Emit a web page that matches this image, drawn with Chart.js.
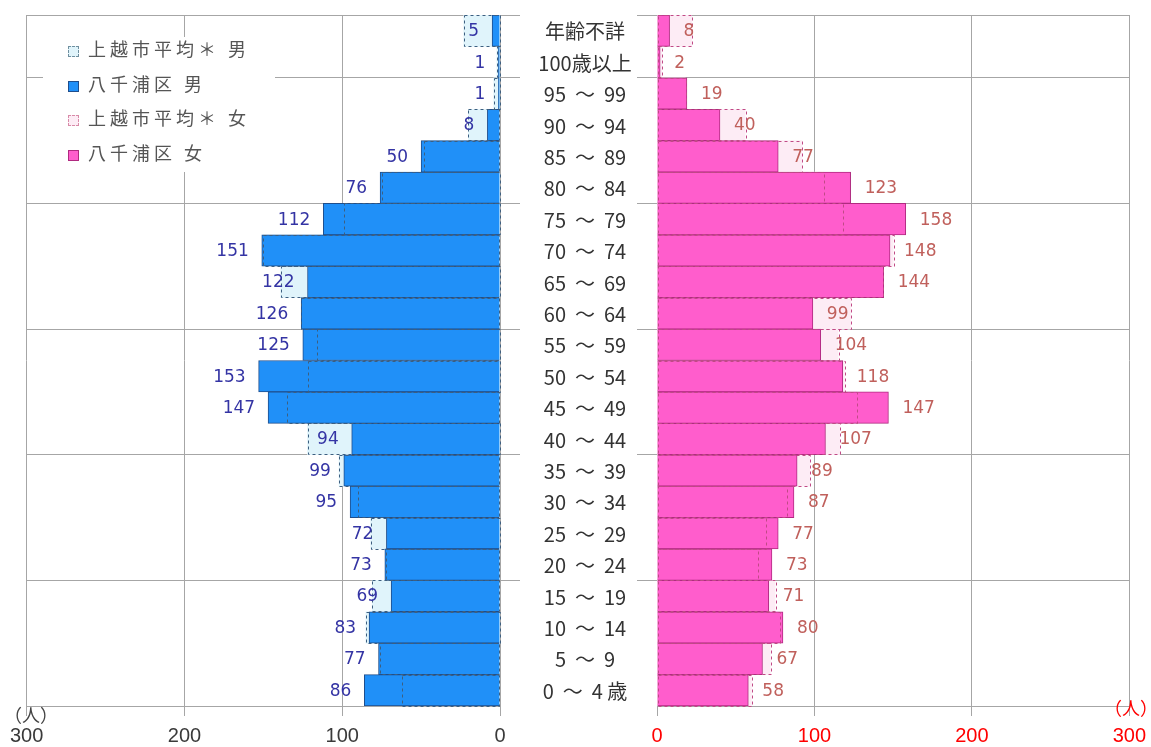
<!DOCTYPE html>
<html lang="ja">
<head>
<meta charset="utf-8">
<title>八千浦区 人口ピラミッド</title>
<script src="https://cdn.jsdelivr.net/npm/chart.js@4.4.1/dist/chart.umd.min.js"></script>
<style>
  html, body { margin: 0; padding: 0; background: #fff; }
  #wrap { position: relative; width: 1151px; height: 747px; overflow: hidden; background: #fff; }
  #leftChart { position: absolute; left: 0; top: 0; }
  #rightChart { position: absolute; left: 637px; top: 0; }
  #legend {
    position: absolute; left: 43px; top: 37px; width: 232px; height: 135px;
    background: #fff; font-family: "Noto Sans CJK JP", sans-serif; font-size: 18px;
    color: #555; letter-spacing: 4px;
  }
  #legend .item { position: absolute; left: 25px; height: 24px; line-height: 24px; white-space: nowrap; }
  #legend .sw { display: inline-block; width: 11px; height: 11px; margin-right: 9px; vertical-align: -1px; box-sizing: border-box; }
  .sw.avgM { background: #e0f4fb; border: 1px dashed #6f8f9f; }
  .sw.locM { background: #2090f8; border: 1px solid #1f4e8c; }
  .sw.avgF { background: #fdecf5; border: 1px dashed #d88aa8; }
  .sw.locF { background: #ff5dcc; border: 1px solid #b02a80; }
  .unit { position: absolute; font-family: "Noto Sans CJK JP", sans-serif; font-size: 18px; line-height: 20px; }
</style>
</head>
<body>
<div id="wrap">
  <canvas id="leftChart" width="657" height="747"></canvas>
  <canvas id="rightChart" width="519" height="747"></canvas>
  <div id="legend">
    <div class="item" style="top:-1px"><span class="sw avgM"></span>上越市平均＊ 男</div>
    <div class="item" style="top:34px"><span class="sw locM"></span>八千浦区 男</div>
    <div class="item" style="top:68px"><span class="sw avgF"></span>上越市平均＊ 女</div>
    <div class="item" style="top:103px"><span class="sw locF"></span>八千浦区 女</div>
  </div>
  <div class="unit" style="left:4px; top:704px; color:#444;">（人）</div>
  <div class="unit" style="left:1104px; top:697px; color:#ff0000;">（人）</div>
</div>
<script>
// 年齢区分（上から順）
const ageLabels = ['年齢不詳', '100歳以上', '95  ～  99', '90  ～  94', '85  ～  89', '80  ～  84',
    '75  ～  79', '70  ～  74', '65  ～  69', '60  ～  64', '55  ～  59', '50  ～  54', '45  ～  49',
    '40  ～  44', '35  ～  39', '30  ～  34', '25  ～  29', '20  ～  24', '15  ～  19', '10  ～  14',
    '5  ～  9', '0  ～  4 歳'];

// 八千浦区
const maleLocal = [5, 1, 1, 8, 50, 76, 112, 151, 122, 126, 125, 153, 147, 94, 99, 95, 72, 73, 69, 83, 77, 86];
const femaleLocal = [8, 2, 19, 40, 77, 123, 158, 148, 144, 99, 104, 118, 147, 107, 89, 87, 77, 73, 71, 80, 67, 58];

// 上越市平均
const maleAvg = [23, 2, 4, 20, 48, 75, 99, 150, 139, 126, 116, 122, 135, 122, 102, 90, 82, 72, 81, 85, 76, 62];
const femaleAvg = [22, 3, 18, 56, 92, 106, 118, 150, 143, 123, 115, 119, 127, 116, 97, 82, 69, 64, 75, 78, 72, 60];

const axisMax = 300;
const axisStep = 100;

// 横の区切り線を引く境界（カテゴリ境界のインデックス）
const groupLines = [0, 2, 6, 10, 14, 18, 22];

const GRID = '#a6a6a6';
const numFont = '"DejaVu Sans", "Noto Sans CJK JP", sans-serif';

function gridColor(ctx) {
    return groupLines.includes(ctx.index) ? GRID : 'rgba(0,0,0,0)';
}

// 平均の点線枠・数値ラベル・中央の年齢ラベル
const overlayPlugin = {
    id: 'overlay',
    afterDatasetsDraw(chart, args, opts) {
        const ctx = chart.ctx;
        const avgMeta = chart.getDatasetMeta(0);
        const mainMeta = chart.getDatasetMeta(1);
        const isLeft = opts.side === 'left';
        ctx.save();
        ctx.setLineDash([3, 3]);
        ctx.lineWidth = 1;
        ctx.strokeStyle = opts.dashColor;
        avgMeta.data.forEach(bar => {
            const p = bar.getProps(['x', 'y', 'base', 'height'], true);
            const left = Math.min(p.x, p.base);
            const w = Math.abs(p.x - p.base);
            ctx.strokeRect(Math.round(left) + 0.5, Math.round(p.y - p.height / 2) + 0.5, Math.round(w), Math.round(p.height));
        });
        ctx.setLineDash([]);
        ctx.font = '17px ' + numFont;
        ctx.fillStyle = opts.labelColor;
        ctx.textBaseline = 'middle';
        ctx.textAlign = isLeft ? 'right' : 'left';
        const values = chart.data.datasets[1].data;
        mainMeta.data.forEach((bar, i) => {
            const p = bar.getProps(['x', 'y'], true);
            const tx = isLeft ? p.x - 13 : p.x + 14;
            ctx.fillText(String(values[i]), tx, p.y + 1);
        });
        if (isLeft) {
            const yScale = chart.scales.y;
            ctx.font = '20px "Noto Sans CJK JP", sans-serif';
            ctx.fillStyle = '#333';
            ctx.textAlign = 'center';
            chart.data.labels.forEach((lab, i) => {
                ctx.fillText(lab, chart.chartArea.right + 85, yScale.getPixelForValue(i) + 1);
            });
        }
        ctx.restore();
    }
};

function makeChart(canvasId, side) {
    const isLeft = side === 'left';
    return new Chart(document.getElementById(canvasId), {
        type: 'bar',
        data: {
            labels: ageLabels,
            datasets: [
                {
                    label: isLeft ? '上越市平均＊ 男' : '上越市平均＊ 女',
                    data: isLeft ? maleAvg : femaleAvg,
                    backgroundColor: isLeft ? '#e0f4fb' : '#fdecf5',
                    borderWidth: 0,
                    grouped: false,
                    order: 2,
                    barPercentage: 1,
                    categoryPercentage: 1
                },
                {
                    label: isLeft ? '八千浦区 男' : '八千浦区 女',
                    data: isLeft ? maleLocal : femaleLocal,
                    backgroundColor: isLeft ? '#2090f8' : '#ff5dcc',
                    borderColor: isLeft ? '#1f4e8c' : '#b02a80',
                    borderWidth: 1,
                    grouped: false,
                    order: 1,
                    barPercentage: 1,
                    categoryPercentage: 1
                }
            ]
        },
        options: {
            indexAxis: 'y',
            responsive: false,
            animation: false,
            layout: {
                padding: isLeft
                    ? { left: 26, right: 0, top: 15, bottom: 1 }
                    : { left: 0, right: 16, top: 15, bottom: 1 }
            },
            plugins: {
                legend: { display: false },
                tooltip: { enabled: false },
                overlay: {
                    side: side,
                    dashColor: isLeft ? '#3d5f80' : '#c04a86',
                    labelColor: isLeft ? '#3434a4' : '#c0605c'
                }
            },
            scales: {
                x: {
                    type: 'linear',
                    min: 0,
                    max: axisMax,
                    reverse: isLeft,
                    grid: { color: GRID, tickLength: 10, tickColor: GRID },
                    border: { color: GRID },
                    ticks: {
                        stepSize: axisStep,
                        padding: 10,
                        color: isLeft ? '#3a3a3a' : '#ff0000',
                        font: { family: '"Liberation Sans", sans-serif', size: 20, lineHeight: 1 }
                    },
                    afterFit(scale) { scale.height = 40; }
                },
                y: {
                    type: 'category',
                    position: isLeft ? 'right' : 'left',
                    offset: true,
                    grid: { offset: true, color: gridColor, tickColor: gridColor, tickLength: 20 },
                    border: { display: false },
                    ticks: { display: false },
                    afterFit(scale) { scale.width = isLeft ? 157 : 20; }
                }
            }
        },
        plugins: [overlayPlugin]
    });
}

makeChart('leftChart', 'left');
makeChart('rightChart', 'right');
</script>
</body>
</html>
